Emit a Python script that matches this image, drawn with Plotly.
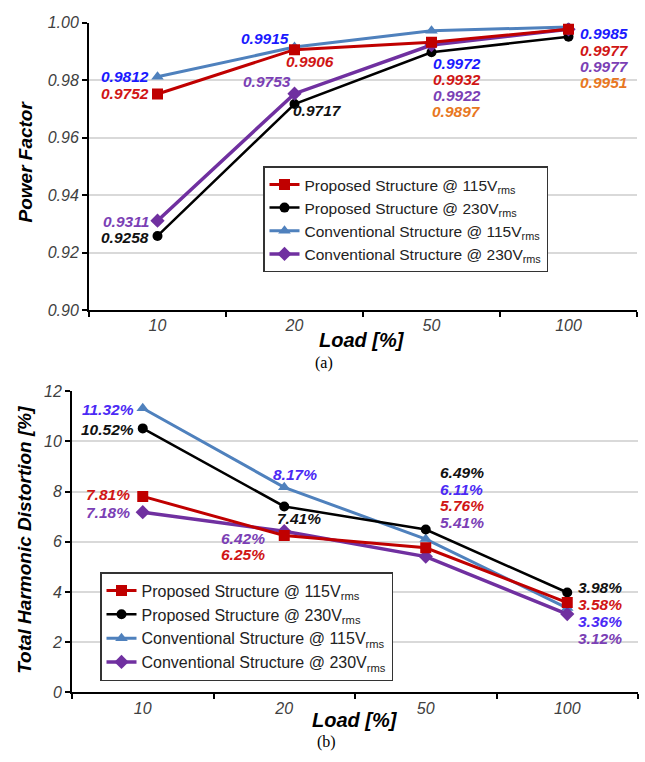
import plotly.graph_objects as go

# ---------------- data ----------------
loads = ["10", "20", "50", "100"]
names = [
    "Proposed Structure @ 115V<sub>rms</sub>",
    "Proposed Structure @ 230V<sub>rms</sub>",
    "Conventional Structure @ 115V<sub>rms</sub>",
    "Conventional Structure @ 230V<sub>rms</sub>",
]
pf_prop_115 = [0.9752, 0.9906, 0.9932, 0.9977]
pf_prop_230 = [0.9258, 0.9717, 0.9897, 0.9951]
pf_conv_115 = [0.9812, 0.9915, 0.9972, 0.9985]
pf_conv_230 = [0.9311, 0.9753, 0.9922, 0.9977]

thd_prop_115 = [7.81, 6.25, 5.76, 3.58]
thd_prop_230 = [10.52, 7.41, 6.49, 3.98]
thd_conv_115 = [11.32, 8.17, 6.11, 3.36]
thd_conv_230 = [7.18, 6.42, 5.41, 3.12]

pf_ticks = [0.90, 0.92, 0.94, 0.96, 0.98, 1.00]
thd_ticks = [0, 2, 4, 6, 8, 10, 12]

# ---------------- styles ----------------
line_cols = ["#c00000", "#000000", "#4f81bd", "#7030a0"]
symbols = ["square", "circle", "triangle-up", "diamond"]
msizes = [11, 10, 11, 11]
lwidths = [3, 2.5, 3, 3.5]
draw_order = [2, 1, 3, 0]

pf_series = [pf_prop_115, pf_prop_230, pf_conv_115, pf_conv_230]
thd_series = [thd_prop_115, thd_prop_230, thd_conv_115, thd_conv_230]

# label colours per series per category
pf_lab_cols = [
    ["#d01515"] * 4,
    ["#111111", "#111111", "#e87722", "#e87722"],
    ["#1a1aff"] * 4,
    ["#7b3fb5"] * 4,
]
thd_lab_cols = [
    ["#d01515"] * 4,
    ["#111111"] * 4,
    ["#4b2af5"] * 4,
    ["#7b3fb5"] * 4,
]
# (xanchor, xshift, yshift) per series per category
pf_lab_pos = [
    [("right", -8, 0), ("left", -10, -12), ("center", 25, -37), ("left", 10, -21)],
    [("right", -8, -2), ("left", -3, -6), ("center", 25, -59), ("left", 10, -46)],
    [("right", -8, 0), ("right", -5, 9), ("center", 25, -33), ("left", 10, -7)],
    [("right", -8, -1), ("right", -3, 12), ("center", 25, -50), ("left", 10, -37)],
]
thd_lab_pos = [
    [("right", -12, 2), ("right", -18, -19), ("center", 36, 42), ("left", 10, -2)],
    [("right", -8, -1), ("center", 15, -12), ("center", 36, 57), ("left", 10, 5)],
    [("right", -8, -1), ("center", 11, 13), ("center", 36, 50), ("left", 10, -13)],
    [("right", -12, 0), ("right", -18, -7), ("center", 36, 34), ("left", 10, -24)],
]

W, H = 645, 762
FONT = "Liberation Sans"
LAB_SIZE = 15.5

fig = go.Figure()

for i in draw_order:
    fig.add_trace(go.Scatter(
        x=loads, y=pf_series[i], name=names[i], mode="lines+markers",
        line=dict(color=line_cols[i], width=lwidths[i]),
        marker=dict(symbol=symbols[i], size=msizes[i], color=line_cols[i]),
        xaxis="x", yaxis="y", legend="legend", legendrank=i + 1,
    ))
for i in draw_order:
    fig.add_trace(go.Scatter(
        x=loads, y=thd_series[i], name=names[i], mode="lines+markers",
        line=dict(color=line_cols[i], width=lwidths[i]),
        marker=dict(symbol=symbols[i], size=msizes[i], color=line_cols[i]),
        xaxis="x2", yaxis="y2", legend="legend2", legendrank=i + 1,
    ))

ann = []
for s in range(4):
    for c in range(4):
        xa, xs, ys = pf_lab_pos[s][c]
        ann.append(dict(x=c, y=pf_series[s][c], xref="x", yref="y",
                        text=f"{pf_series[s][c]:.4f}", showarrow=False, borderpad=0,
                        xanchor=xa, yanchor="middle", xshift=xs, yshift=ys,
                        font=dict(family=FONT, size=LAB_SIZE, color=pf_lab_cols[s][c],
                                  weight="bold", style="italic")))
        xa, xs, ys = thd_lab_pos[s][c]
        ann.append(dict(x=c, y=thd_series[s][c], xref="x2", yref="y2",
                        text=f"{thd_series[s][c]:.2f}%", showarrow=False, borderpad=0,
                        xanchor=xa, yanchor="middle", xshift=xs, yshift=ys,
                        font=dict(family=FONT, size=LAB_SIZE, color=thd_lab_cols[s][c],
                                  weight="bold", style="italic")))

def pap(px, py):
    return px / W, 1 - py / H

def tf(sz):
    return dict(family=FONT, size=sz, color="#000", weight="bold", style="italic")

cap_font = dict(family="Liberation Serif", size=16, color="#000")
for txt, (px, py), rot, f in [
    ("Power Factor", (25, 157), -90, tf(19)),
    ("Load [%]", (362, 340), 0, tf(20)),
    ("(a)", (324, 363), 0, cap_font),
    ("Total Harmonic Distortion [%]", (25, 544), -90, tf(19)),
    ("Load [%]", (355, 728), 0, tf(20)),
    ("(b)", (326, 751), 0, cap_font),
]:
    x, y = pap(px, py)
    ann.append(dict(x=x, y=y, xref="paper", yref="paper", text=txt, showarrow=False,
                    textangle=rot, xanchor="center", yanchor="middle", font=f))

tick_font = dict(family=FONT, size=16, color="#404040", style="italic")
xcommon = dict(type="category", categoryorder="array", categoryarray=loads,
               range=[-0.5, 3.5], showline=True, linecolor="#000", linewidth=2,
               ticks="outside", tickson="boundaries", ticklen=5, tickwidth=1.5,
               tickcolor="#000", showgrid=False, tickfont=tick_font, zeroline=False)
ycommon = dict(showline=True, linecolor="#000", linewidth=2, ticks="outside",
               ticklen=5, tickwidth=2, tickcolor="#000", showgrid=True,
               gridcolor="#d9d9d9", gridwidth=1.5, tickfont=tick_font, zeroline=False)

fig.update_layout(
    width=W, height=H, margin=dict(l=0, r=0, t=0, b=0),
    paper_bgcolor="white", plot_bgcolor="white",
    xaxis=dict(domain=[89 / W, 637 / W], anchor="y", **xcommon),
    yaxis=dict(domain=[1 - 309 / H, 1 - 15 / H], anchor="x", range=[0.90, 1.00],
               tickvals=pf_ticks, ticktext=[f"{v:.2f}" for v in pf_ticks], **ycommon),
    xaxis2=dict(domain=[72 / W, 638 / W], anchor="y2", **xcommon),
    yaxis2=dict(domain=[1 - 700 / H, 1 - 392 / H], anchor="x2", range=[0, 12],
                tickvals=thd_ticks, **ycommon),
    legend=dict(x=263 / W, y=1 - 162 / H, xanchor="left", yanchor="top",
                bgcolor="white", bordercolor="#333", borderwidth=1.5,
                font=dict(family=FONT, size=15.5, color="#222"), traceorder="normal"),
    legend2=dict(x=100 / W, y=1 - 577 / H, xanchor="left", yanchor="top",
                 bgcolor="white", bordercolor="#333", borderwidth=1.5,
                 font=dict(family=FONT, size=16, color="#222"), traceorder="normal"),
    annotations=ann,
    showlegend=True,
)

fig.write_html("out.html")
